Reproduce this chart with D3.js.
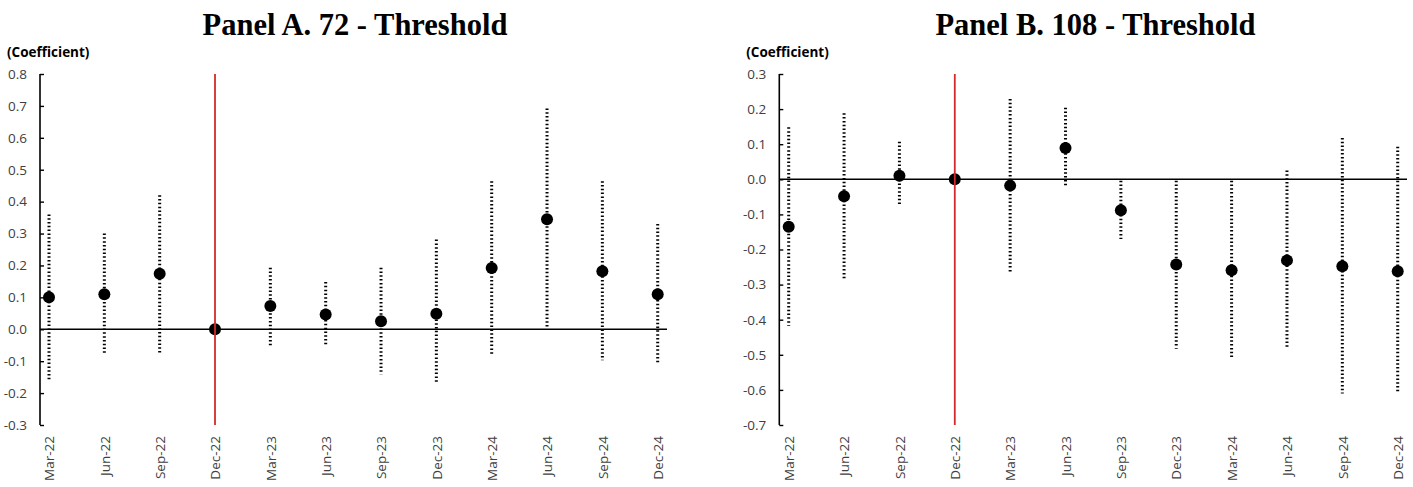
<!DOCTYPE html>
<html>
<head>
<meta charset="utf-8">
<script src="https://cdn.jsdelivr.net/npm/d3@7"></script>
<style>
  html, body { margin: 0; padding: 0; background: #ffffff; }
  svg { display: block; }
</style>
</head>
<body>
<svg id="chart" width="1413" height="487"></svg>
<script>
// ---------------- DATA ----------------
const categories = ["Mar-22","Jun-22","Sep-22","Dec-22","Mar-23","Jun-23","Sep-23","Dec-23","Mar-24","Jun-24","Sep-24","Dec-24"];

const titleA = "Panel A. 72 - Threshold";
const coefA  = [0.100, 0.110, 0.174, 0.000, 0.073, 0.046, 0.025, 0.049, 0.192, 0.345, 0.182, 0.110];
const upperA = [0.360, 0.300, 0.420, null,  0.193, 0.148, 0.193, 0.281, 0.464, 0.692, 0.464, 0.330];
const lowerA = [-0.157,-0.079,-0.080, null, -0.051,-0.051,-0.141,-0.170,-0.081, 0.008,-0.097,-0.110];
const yTicksA = [-0.3,-0.2,-0.1,0.0,0.1,0.2,0.3,0.4,0.5,0.6,0.7,0.8];

const titleB = "Panel B. 108 - Threshold";
const coefB  = [-0.135,-0.048, 0.010, 0.000,-0.018, 0.089,-0.088,-0.243,-0.259,-0.231,-0.248,-0.262];
const upperB = [0.148, 0.188, 0.107, null, 0.229, 0.204,-0.004,-0.004,-0.004, 0.025, 0.118, 0.093];
const lowerB = [-0.417,-0.282,-0.077, null,-0.266,-0.021,-0.170,-0.483,-0.513,-0.483,-0.610,-0.610];
const yTicksB = [-0.7,-0.6,-0.5,-0.4,-0.3,-0.2,-0.1,0.0,0.1,0.2,0.3];

const eventCategory = "Dec-22";
const yLabel = "(Coefficient)";

// ---------------- DRAW ----------------
const svg = d3.select("#chart");
const fmt = d3.formatLocale({decimal: ".", thousands: ",", grouping: [3], currency: ["", ""], minus: "-"}).format(".1f");
const tickFont = "'Open Sans', 'Liberation Sans', sans-serif";

function panel(cfg) {
  const g = svg.append("g");
  const y = d3.scaleLinear().domain(cfg.domain).range([cfg.bottom, cfg.top]);
  const x = d3.scalePoint().domain(categories).range([cfg.firstX, cfg.lastX]);

  // title
  g.append("text")
    .attr("x", cfg.titleX).attr("y", 35)
    .attr("text-anchor", "middle")
    .attr("font-family", "'Liberation Serif', 'Times New Roman', serif")
    .attr("font-weight", "bold").attr("font-size", 30.5)
    .attr("fill", "#000")
    .text(cfg.title);

  // y label
  g.append("text")
    .attr("x", cfg.axisX - 33).attr("y", 57)
    .attr("font-family", tickFont)
    .attr("font-weight", "bold").attr("font-size", 13.5)
    .attr("fill", "#000")
    .text(yLabel);

  // y axis
  const yAxis = d3.axisLeft(y).tickValues(cfg.ticks).tickFormat(fmt).tickSize(-4).tickPadding(13);
  const ya = g.append("g").attr("transform", `translate(${cfg.axisX},0)`).call(yAxis);
  ya.select(".domain").attr("stroke", "#000").attr("stroke-width", 1.6)
    .attr("d", `M0,${cfg.top}V${cfg.bottom}`);
  ya.selectAll(".tick line").attr("stroke", "#000").attr("stroke-width", 1.4);
  ya.selectAll(".tick text").attr("font-family", tickFont).attr("font-size", 13.5).attr("fill", "#404040");

  // x labels (axis at bottom, no line)
  const xAxis = d3.axisBottom(x).tickSize(0).tickPadding(0);
  const xa = g.append("g").attr("transform", `translate(0,${cfg.bottom})`).call(xAxis);
  xa.select(".domain").remove();
  xa.selectAll(".tick text")
    .attr("font-family", tickFont).attr("font-size", 13.5).attr("fill", "#404040")
    .attr("text-anchor", "end")
    .attr("transform", "rotate(-90)")
    .attr("x", -11).attr("y", 0).attr("dy", "0.35em");

  // zero line
  g.append("line")
    .attr("x1", cfg.axisX).attr("x2", cfg.endX)
    .attr("y1", y(0)).attr("y2", y(0))
    .attr("stroke", "#000").attr("stroke-width", 1.6);

  // error bars
  const rows = categories.map((c, i) => ({c, v: cfg.coef[i], hi: cfg.upper[i], lo: cfg.lower[i]}));
  g.selectAll("line.err").data(rows.filter(d => d.hi !== null))
    .enter().append("line").attr("class", "err")
    .attr("x1", d => x(d.c)).attr("x2", d => x(d.c))
    .attr("y1", d => y(d.hi)).attr("y2", d => y(d.lo))
    .attr("stroke", "#000").attr("stroke-width", 3)
    .attr("stroke-dasharray", "1.5,2.3");

  // points
  g.selectAll("circle.pt").data(rows)
    .enter().append("circle").attr("class", "pt")
    .attr("cx", d => x(d.c)).attr("cy", d => y(d.v))
    .attr("r", 6).attr("fill", "#000");

  // event line
  g.append("line")
    .attr("x1", x(eventCategory)).attr("x2", x(eventCategory))
    .attr("y1", cfg.top).attr("y2", cfg.bottom)
    .attr("stroke", "#d42a2a").attr("stroke-width", 1.8);
}

panel({title: titleA, titleX: 355, domain: [-0.3, 0.8], ticks: yTicksA,
       coef: coefA, upper: upperA, lower: lowerA,
       axisX: 40, endX: 667, firstX: 49, lastX: 657.7, top: 74, bottom: 425});
panel({title: titleB, titleX: 1095.5, domain: [-0.7, 0.3], ticks: yTicksB,
       coef: coefB, upper: upperB, lower: lowerB,
       axisX: 779.3, endX: 1407, firstX: 788.7, lastX: 1397.7, top: 74, bottom: 425});
</script>
</body>
</html>
